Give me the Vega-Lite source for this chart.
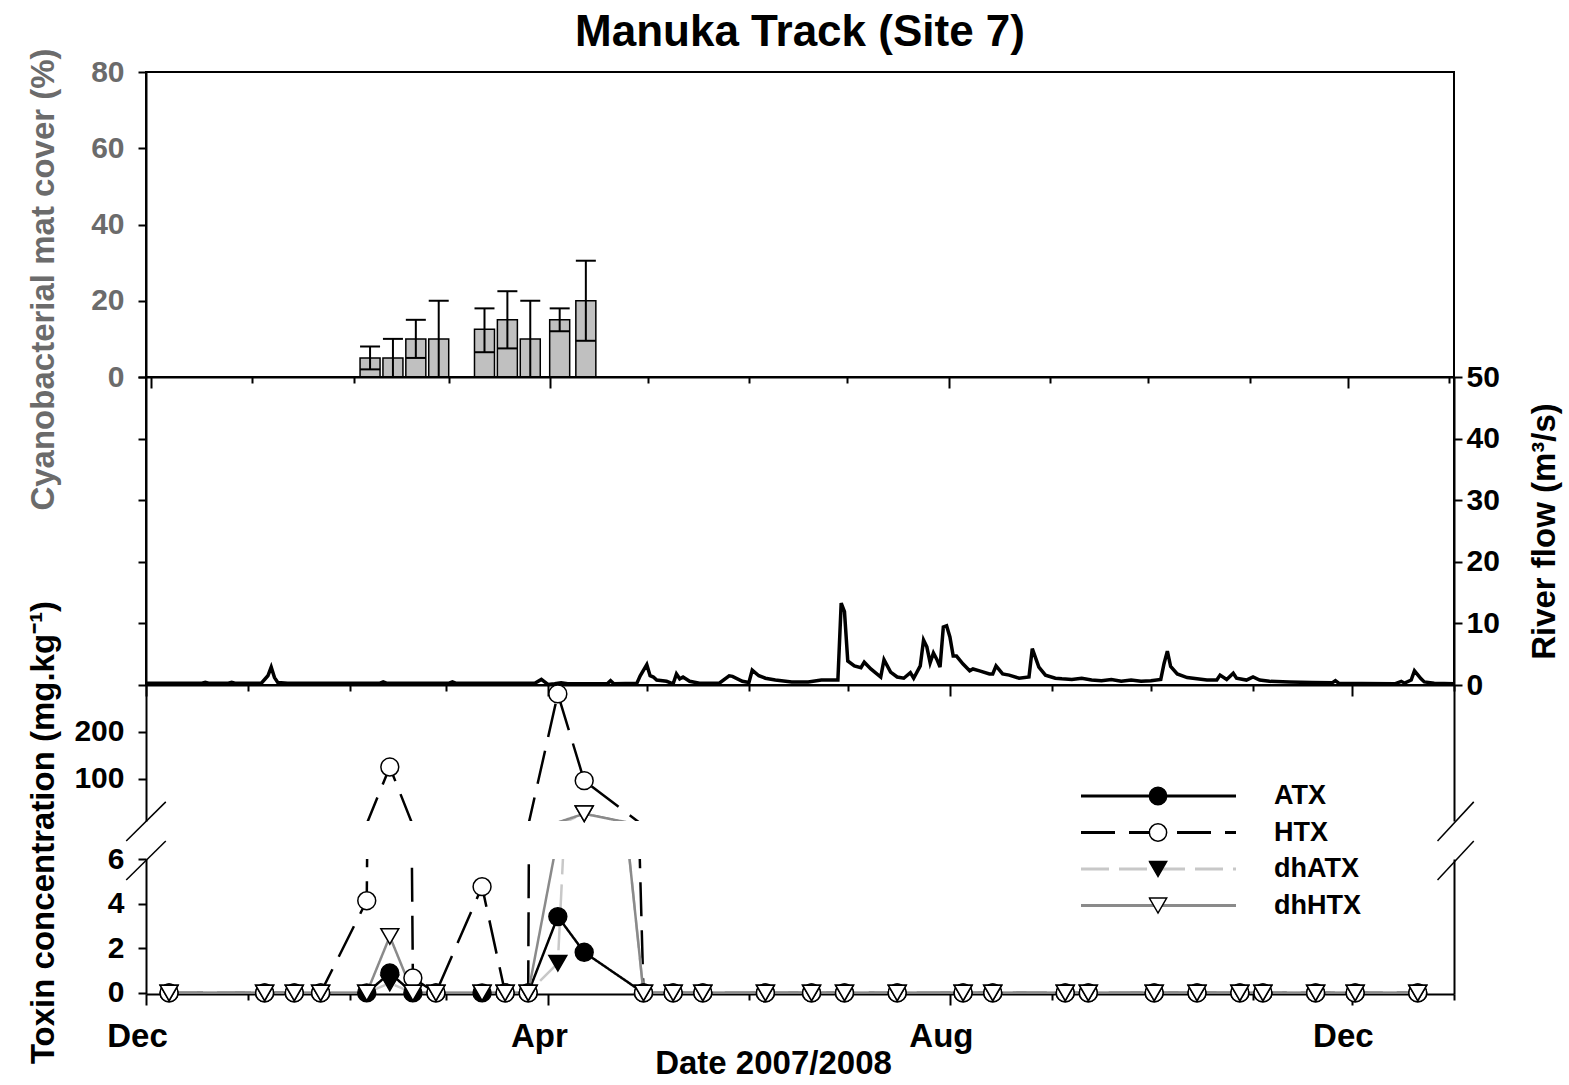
{
  "$schema": "https://vega.github.io/schema/vega-lite/v6.json",
  "autosize": {"type": "pad"},
  "padding": {"left": 25, "top": 10, "right": 5, "bottom": 5},
  "title": {"text": "Manuka Track (Site 7)", "fontSize": 44, "font": "Liberation Sans", "fontWeight": "bold", "color": "black", "anchor": "middle", "frame": "group", "offset": -8},
  "config": {
    "font": "Liberation Sans",
    "view": {"stroke": null},
    "axis": {"labelFont": "Liberation Sans", "titleFont": "Liberation Sans", "labelFontWeight": "bold", "labelFontSize": 30, "labelColor": "black", "titleFontSize": 33, "titleFontWeight": "bold", "titleColor": "black", "domainColor": "black", "domainWidth": 2, "tickColor": "black", "tickWidth": 2, "tickSize": 8, "grid": false, "labelPadding": 12},
    "legend": {"labelFont": "Liberation Sans"}
  },
  "datasets": {
    "cover": [
      {"date": "2008-02-06", "cover": 5, "lo": 2, "hi": 8},
      {"date": "2008-02-13", "cover": 5, "lo": 0, "hi": 10},
      {"date": "2008-02-20", "cover": 10, "lo": 5, "hi": 15},
      {"date": "2008-02-27", "cover": 10, "lo": 0, "hi": 20},
      {"date": "2008-03-12", "cover": 12.5, "lo": 6.5, "hi": 18},
      {"date": "2008-03-19", "cover": 15, "lo": 7.5, "hi": 22.5},
      {"date": "2008-03-26", "cover": 10, "lo": 0, "hi": 20},
      {"date": "2008-04-04", "cover": 15, "lo": 12, "hi": 18},
      {"date": "2008-04-12", "cover": 20, "lo": 9.5, "hi": 30.5}
    ],
    "flow": [
      {"date": "2007-12-01", "flow": 0.3}, {"date": "2007-12-18", "flow": 0.3}, {"date": "2007-12-19", "flow": 0.45}, {"date": "2007-12-20", "flow": 0.3},
      {"date": "2007-12-26", "flow": 0.3}, {"date": "2007-12-27", "flow": 0.45}, {"date": "2007-12-28", "flow": 0.3},
      {"date": "2008-01-05", "flow": 0.3}, {"date": "2008-01-07", "flow": 1.5}, {"date": "2008-01-08", "flow": 2.9}, {"date": "2008-01-09", "flow": 1.2},
      {"date": "2008-01-10", "flow": 0.4}, {"date": "2008-01-13", "flow": 0.3}, {"date": "2008-02-10", "flow": 0.3}, {"date": "2008-02-11", "flow": 0.5},
      {"date": "2008-02-12", "flow": 0.3}, {"date": "2008-03-02", "flow": 0.3}, {"date": "2008-03-03", "flow": 0.5}, {"date": "2008-03-04", "flow": 0.3},
      {"date": "2008-03-28", "flow": 0.3}, {"date": "2008-03-30", "flow": 0.9}, {"date": "2008-03-31", "flow": 0.5}, {"date": "2008-04-01", "flow": 0.1},
      {"date": "2008-04-03", "flow": 0.2}, {"date": "2008-04-05", "flow": 0.35}, {"date": "2008-04-07", "flow": 0.2}, {"date": "2008-04-19", "flow": 0.2},
      {"date": "2008-04-20", "flow": 0.7}, {"date": "2008-04-21", "flow": 0.2}, {"date": "2008-04-28", "flow": 0.3}, {"date": "2008-04-29", "flow": 1.5},
      {"date": "2008-05-01", "flow": 3.3}, {"date": "2008-05-02", "flow": 1.5}, {"date": "2008-05-03", "flow": 1.3}, {"date": "2008-05-04", "flow": 0.8},
      {"date": "2008-05-07", "flow": 0.6}, {"date": "2008-05-09", "flow": 0.2}, {"date": "2008-05-10", "flow": 1.8}, {"date": "2008-05-11", "flow": 1.0},
      {"date": "2008-05-12", "flow": 1.3}, {"date": "2008-05-14", "flow": 0.6}, {"date": "2008-05-17", "flow": 0.3}, {"date": "2008-05-23", "flow": 0.3},
      {"date": "2008-05-26", "flow": 1.5}, {"date": "2008-05-27", "flow": 1.4}, {"date": "2008-05-30", "flow": 0.6}, {"date": "2008-06-01", "flow": 0.4},
      {"date": "2008-06-02", "flow": 2.4}, {"date": "2008-06-04", "flow": 1.5}, {"date": "2008-06-06", "flow": 1.1}, {"date": "2008-06-09", "flow": 0.8},
      {"date": "2008-06-14", "flow": 0.5}, {"date": "2008-06-19", "flow": 0.5}, {"date": "2008-06-23", "flow": 0.8}, {"date": "2008-06-28", "flow": 0.8},
      {"date": "2008-06-29", "flow": 13.3}, {"date": "2008-06-30", "flow": 11.9}, {"date": "2008-07-01", "flow": 3.9}, {"date": "2008-07-03", "flow": 3.1},
      {"date": "2008-07-05", "flow": 2.8}, {"date": "2008-07-06", "flow": 3.7}, {"date": "2008-07-08", "flow": 2.6}, {"date": "2008-07-11", "flow": 1.3},
      {"date": "2008-07-12", "flow": 4.1}, {"date": "2008-07-14", "flow": 2.1}, {"date": "2008-07-16", "flow": 1.3}, {"date": "2008-07-18", "flow": 1.1},
      {"date": "2008-07-20", "flow": 2.0}, {"date": "2008-07-21", "flow": 1.1}, {"date": "2008-07-23", "flow": 3.1}, {"date": "2008-07-24", "flow": 7.3},
      {"date": "2008-07-25", "flow": 6.2}, {"date": "2008-07-26", "flow": 3.6}, {"date": "2008-07-27", "flow": 5.2}, {"date": "2008-07-28", "flow": 4.2},
      {"date": "2008-07-29", "flow": 2.9}, {"date": "2008-07-30", "flow": 9.4}, {"date": "2008-07-31", "flow": 9.6}, {"date": "2008-08-01", "flow": 7.8},
      {"date": "2008-08-02", "flow": 4.7}, {"date": "2008-08-03", "flow": 4.7}, {"date": "2008-08-05", "flow": 3.4}, {"date": "2008-08-07", "flow": 2.3},
      {"date": "2008-08-08", "flow": 2.6}, {"date": "2008-08-10", "flow": 2.3}, {"date": "2008-08-13", "flow": 1.8}, {"date": "2008-08-14", "flow": 1.8},
      {"date": "2008-08-15", "flow": 3.1}, {"date": "2008-08-17", "flow": 1.8}, {"date": "2008-08-19", "flow": 1.6}, {"date": "2008-08-22", "flow": 1.1},
      {"date": "2008-08-25", "flow": 1.3}, {"date": "2008-08-26", "flow": 5.9}, {"date": "2008-08-28", "flow": 2.9}, {"date": "2008-08-30", "flow": 1.6},
      {"date": "2008-09-02", "flow": 1.1}, {"date": "2008-09-04", "flow": 1.0}, {"date": "2008-09-07", "flow": 0.9}, {"date": "2008-09-10", "flow": 1.1},
      {"date": "2008-09-13", "flow": 0.8}, {"date": "2008-09-16", "flow": 0.7}, {"date": "2008-09-19", "flow": 0.9}, {"date": "2008-09-22", "flow": 0.6},
      {"date": "2008-09-25", "flow": 0.8}, {"date": "2008-09-28", "flow": 0.6}, {"date": "2008-10-01", "flow": 0.7}, {"date": "2008-10-04", "flow": 0.9},
      {"date": "2008-10-05", "flow": 3.5}, {"date": "2008-10-06", "flow": 5.5}, {"date": "2008-10-07", "flow": 3.0}, {"date": "2008-10-09", "flow": 1.8},
      {"date": "2008-10-12", "flow": 1.2}, {"date": "2008-10-15", "flow": 1.0}, {"date": "2008-10-18", "flow": 0.8}, {"date": "2008-10-21", "flow": 0.8},
      {"date": "2008-10-22", "flow": 1.6}, {"date": "2008-10-24", "flow": 0.9}, {"date": "2008-10-26", "flow": 1.9}, {"date": "2008-10-27", "flow": 1.1},
      {"date": "2008-10-30", "flow": 0.8}, {"date": "2008-11-01", "flow": 1.3}, {"date": "2008-11-03", "flow": 0.8}, {"date": "2008-11-06", "flow": 0.6},
      {"date": "2008-11-12", "flow": 0.5}, {"date": "2008-11-19", "flow": 0.4}, {"date": "2008-11-25", "flow": 0.35}, {"date": "2008-11-26", "flow": 0.7},
      {"date": "2008-11-27", "flow": 0.3}, {"date": "2008-12-04", "flow": 0.25}, {"date": "2008-12-14", "flow": 0.2}, {"date": "2008-12-16", "flow": 0.6},
      {"date": "2008-12-17", "flow": 0.3}, {"date": "2008-12-19", "flow": 0.8}, {"date": "2008-12-20", "flow": 2.3}, {"date": "2008-12-22", "flow": 1.0},
      {"date": "2008-12-23", "flow": 0.5}, {"date": "2008-12-26", "flow": 0.3}, {"date": "2009-01-01", "flow": 0.2}
    ],
    "toxin": [
      {"date": "2007-12-08", "ATX": 0, "HTX": 0, "dhATX": 0, "dhHTX": 0},
      {"date": "2008-01-06", "ATX": 0, "HTX": 0, "dhATX": 0, "dhHTX": 0},
      {"date": "2008-01-15", "ATX": 0, "HTX": 0, "dhATX": 0, "dhHTX": 0},
      {"date": "2008-01-23", "ATX": 0, "HTX": 0, "dhATX": 0, "dhHTX": 0},
      {"date": "2008-02-06", "ATX": 0, "HTX": 4.13, "dhATX": 0, "dhHTX": 0},
      {"date": "2008-02-13", "ATX": 0.89, "HTX": 125, "dhATX": 0.44, "dhHTX": 2.53},
      {"date": "2008-02-20", "ATX": 0, "HTX": 0.67, "dhATX": 0, "dhHTX": 0},
      {"date": "2008-02-27", "ATX": 0, "HTX": 0, "dhATX": 0, "dhHTX": 0},
      {"date": "2008-03-12", "ATX": 0, "HTX": 4.76, "dhATX": 0, "dhHTX": 0},
      {"date": "2008-03-19", "ATX": 0, "HTX": 0, "dhATX": 0, "dhHTX": 0},
      {"date": "2008-03-26", "ATX": 0, "HTX": 0, "dhATX": 0, "dhHTX": 0},
      {"date": "2008-04-04", "ATX": 3.42, "HTX": 281, "dhATX": 1.33, "dhHTX": 7},
      {"date": "2008-04-12", "ATX": 1.82, "HTX": 96, "dhATX": 25.5, "dhHTX": 25.5},
      {"date": "2008-04-30", "ATX": 0, "HTX": 0, "dhATX": 0, "dhHTX": 0},
      {"date": "2008-05-09", "ATX": 0, "HTX": 0, "dhATX": 0, "dhHTX": 0},
      {"date": "2008-05-18", "ATX": 0, "HTX": 0, "dhATX": 0, "dhHTX": 0},
      {"date": "2008-06-06", "ATX": 0, "HTX": 0, "dhATX": 0, "dhHTX": 0},
      {"date": "2008-06-20", "ATX": 0, "HTX": 0, "dhATX": 0, "dhHTX": 0},
      {"date": "2008-06-30", "ATX": 0, "HTX": 0, "dhATX": 0, "dhHTX": 0},
      {"date": "2008-07-16", "ATX": 0, "HTX": 0, "dhATX": 0, "dhHTX": 0},
      {"date": "2008-08-05", "ATX": 0, "HTX": 0, "dhATX": 0, "dhHTX": 0},
      {"date": "2008-08-14", "ATX": 0, "HTX": 0, "dhATX": 0, "dhHTX": 0},
      {"date": "2008-09-05", "ATX": 0, "HTX": 0, "dhATX": 0, "dhHTX": 0},
      {"date": "2008-09-12", "ATX": 0, "HTX": 0, "dhATX": 0, "dhHTX": 0},
      {"date": "2008-10-02", "ATX": 0, "HTX": 0, "dhATX": 0, "dhHTX": 0},
      {"date": "2008-10-15", "ATX": 0, "HTX": 0, "dhATX": 0, "dhHTX": 0},
      {"date": "2008-10-28", "ATX": 0, "HTX": 0, "dhATX": 0, "dhHTX": 0},
      {"date": "2008-11-04", "ATX": 0, "HTX": 0, "dhATX": 0, "dhHTX": 0},
      {"date": "2008-11-20", "ATX": 0, "HTX": 0, "dhATX": 0, "dhHTX": 0},
      {"date": "2008-12-02", "ATX": 0, "HTX": 0, "dhATX": 0, "dhHTX": 0},
      {"date": "2008-12-21", "ATX": 0, "HTX": 0, "dhATX": 0, "dhHTX": 0}
    ],
    "breaks": [
      {"d1": "2007-11-25", "d2": "2007-12-07", "v1": 5.06, "v2": 6.81},
      {"d1": "2007-11-25", "d2": "2007-12-07", "v1": 6.81, "v2": 8.56},
      {"d1": "2008-12-27", "d2": "2009-01-07", "v1": 5.06, "v2": 6.81},
      {"d1": "2008-12-27", "d2": "2009-01-07", "v1": 6.81, "v2": 8.56}
    ]
  },
  "spacing": 0,
  "bounds": "flush",
  "vconcat": [
    {
      "width": 1308, "height": 305,
      "view": {"stroke": "black", "strokeWidth": 2},
      "data": {"name": "cover"},
      "layer": [
        {
          "mark": {"type": "bar", "width": 20, "fill": "#c0c0c0", "stroke": "black", "strokeWidth": 1.5},
          "encoding": {
            "x": {"field": "date", "type": "temporal",
                  "scale": {"type": "utc", "domain": [{"year": 2007, "month": 12, "date": 1, "utc": true}, {"year": 2009, "month": 1, "date": 1, "utc": true}]},
                  "axis": {"tickCount": {"interval": "month", "step": 1}, "labels": false, "title": null, "tickSize": {"condition": {"test": "utcmonth(datum.value) % 4 == 3", "value": 11}, "value": 6}}},
            "y": {"field": "cover", "type": "quantitative", "scale": {"domain": [0, 80], "nice": false},
                  "axis": {"values": [0, 20, 40, 60, 80], "labelColor": "#6b6b6b", "title": "Cyanobacterial mat cover (%)", "titleColor": "#6b6b6b", "titleX": -103, "titleY": 207, "titleAngle": 270, "titleAlign": "center", "titleBaseline": "middle", "labelPadding": 14}}
          }
        },
        {
          "mark": {"type": "rule", "color": "black", "strokeWidth": 2},
          "encoding": {
            "x": {"field": "date", "type": "temporal"},
            "y": {"field": "lo", "type": "quantitative"},
            "y2": {"field": "hi"}
          }
        },
        {
          "mark": {"type": "tick", "orient": "horizontal", "color": "black", "size": 20, "thickness": 2, "opacity": 1},
          "encoding": {
            "x": {"field": "date", "type": "temporal"},
            "y": {"field": "hi", "type": "quantitative"}
          }
        },
        {
          "transform": [{"filter": "datum.lo > 0"}],
          "mark": {"type": "tick", "orient": "horizontal", "color": "black", "size": 20, "thickness": 2, "opacity": 1},
          "encoding": {
            "x": {"field": "date", "type": "temporal"},
            "y": {"field": "lo", "type": "quantitative"}
          }
        }
      ]
    },
    {
      "width": 1308, "height": 308,
      "view": {"stroke": "black", "strokeWidth": 2},
      "data": {"name": "flow"},
      "layer": [
        {
          "mark": {"type": "line", "color": "black", "strokeWidth": 3.5},
          "encoding": {
            "x": {"field": "date", "type": "temporal",
                  "scale": {"type": "utc", "domain": [{"year": 2007, "month": 12, "date": 1, "utc": true}, {"year": 2009, "month": 1, "date": 1, "utc": true}]},
                  "axis": {"tickCount": {"interval": "month", "step": 1}, "labels": false, "title": null, "tickSize": {"condition": {"test": "utcmonth(datum.value) % 4 == 3", "value": 11}, "value": 6}}},
            "y": {"field": "flow", "type": "quantitative", "scale": {"domain": [0, 50], "nice": false},
                  "axis": {"values": [0, 10, 20, 30, 40, 50], "labels": false, "title": null}}
          }
        },
        {
          "mark": {"type": "line", "color": "black", "strokeWidth": 3.5, "opacity": 0},
          "encoding": {
            "x": {"field": "date", "type": "temporal"},
            "y": {"field": "flow", "type": "quantitative",
                  "axis": {"orient": "right", "values": [0, 10, 20, 30, 40, 50], "labelPadding": 4, "title": "River flow (m³/s)", "titleX": 90, "titleY": 154, "titleAngle": 270, "titleAlign": "center", "titleBaseline": "middle"}}
          }
        }
      ],
      "resolve": {"axis": {"y": "independent"}}
    },
    {
      "spacing": 38,
      "bounds": "flush",
      "vconcat": [
        {
          "width": 1308, "height": 136,
          "layer": [
            {
              "data": {"name": "toxin"},
              "transform": [{"fold": ["ATX", "HTX", "dhATX", "dhHTX"], "as": ["toxin", "value"]}],
              "mark": {"type": "line", "clip": true, "strokeWidth": 2.5},
              "encoding": {
                "x": {"field": "date", "type": "temporal",
                      "scale": {"type": "utc", "domain": [{"year": 2007, "month": 12, "date": 1, "utc": true}, {"year": 2009, "month": 1, "date": 1, "utc": true}]},
                      "axis": null},
                "y": {"field": "value", "type": "quantitative", "scale": {"domain": [10, 300], "nice": false, "zero": false},
                      "axis": {"values": [100, 200], "title": null, "labelPadding": 14}},
                "stroke": {"field": "toxin", "type": "nominal", "scale": {"domain": ["ATX", "HTX", "dhATX", "dhHTX"], "range": ["black", "black", "#c8c8c8", "#8a8a8a"]},
                           "legend": {"orient": "none", "legendX": 933.5, "legendY": 706, "title": null, "symbolType": "stroke", "symbolSize": 24025, "symbolStrokeWidth": 3, "clipHeight": 36, "rowPadding": 0.5, "labelFontSize": 27, "labelFontWeight": "bold", "labelColor": "black", "labelOffset": 36.5, "padding": 0}},
                "strokeDash": {"field": "toxin", "type": "nominal", "scale": {"domain": ["ATX", "HTX", "dhATX", "dhHTX"], "range": [[1, 0], [34, 14], [28, 10], [1, 0]]},
                           "legend": {"orient": "none", "legendX": 933.5, "legendY": 706, "title": null, "symbolType": "stroke", "symbolSize": 24025, "symbolStrokeWidth": 3, "clipHeight": 36, "rowPadding": 0.5, "labelFontSize": 27, "labelFontWeight": "bold", "labelColor": "black", "labelOffset": 36.5, "padding": 0}}
              }
            },
            {
              "data": {"name": "toxin"},
              "transform": [{"fold": ["ATX", "HTX", "dhATX", "dhHTX"], "as": ["toxin", "value"]}, {"filter": "datum.value >= 10"}],
              "mark": {"type": "point", "filled": true, "stroke": "black", "strokeWidth": 1.5, "size": 320, "opacity": 1},
              "encoding": {
                "x": {"field": "date", "type": "temporal", "axis": null},
                "y": {"field": "value", "type": "quantitative", "axis": {"orient": "right", "labels": false, "ticks": false, "title": null}},
                "shape": {"field": "toxin", "type": "nominal", "scale": {"range": ["circle", "circle", "triangle-down", "triangle-down"]},
                          "legend": {"orient": "none", "legendX": 1002.5, "legendY": 706, "title": null, "symbolSize": 300, "symbolStrokeWidth": 1.5, "clipHeight": 36, "rowPadding": 0.5, "labelFontSize": 1, "labelExpr": "''", "padding": 0}},
                "fill": {"field": "toxin", "type": "nominal", "scale": {"range": ["black", "white", "black", "white"]},
                          "legend": {"orient": "none", "legendX": 1002.5, "legendY": 706, "title": null, "symbolSize": 300, "symbolStrokeWidth": 1.5, "clipHeight": 36, "rowPadding": 0.5, "labelFontSize": 1, "labelExpr": "''", "padding": 0}}
              }
            }
          ],
          "resolve": {"axis": {"y": "independent"}}
        },
        {
          "width": 1308, "height": 135,
          "layer": [
            {
              "data": {"name": "toxin"},
              "transform": [{"fold": ["ATX", "HTX", "dhATX", "dhHTX"], "as": ["toxin", "value"]}],
              "mark": {"type": "line", "clip": true, "strokeWidth": 2.5},
              "encoding": {
                "x": {"field": "date", "type": "temporal",
                      "scale": {"type": "utc", "domain": [{"year": 2007, "month": 12, "date": 1, "utc": true}, {"year": 2009, "month": 1, "date": 1, "utc": true}]},
                      "axis": {"tickCount": {"interval": "month", "step": 1}, "labelExpr": "utcmonth(datum.value) % 4 == 3 ? utcFormat(datum.value, '%b') : ''", "labelFontSize": 33, "labelFlush": false, "labelOffset": -9, "labelPadding": 15, "tickSize": {"condition": {"test": "utcmonth(datum.value) % 4 == 3", "value": 11}, "value": 6}, "title": "Date 2007/2008", "titleX": 627, "titleY": 69, "titleAlign": "center", "titleBaseline": "middle"}},
                "y": {"field": "value", "type": "quantitative", "scale": {"domain": [-0.05, 6], "nice": false, "zero": false},
                      "axis": {"values": [0, 2, 4, 6], "labelPadding": 14, "title": "Toxin concentration (mg.kg⁻¹)", "titleX": -103, "titleY": -27, "titleAngle": 270, "titleAlign": "center", "titleBaseline": "middle"}},
                "stroke": {"field": "toxin", "type": "nominal", "scale": {"domain": ["ATX", "HTX", "dhATX", "dhHTX"], "range": ["black", "black", "#c8c8c8", "#8a8a8a"]},
                           "legend": {"orient": "none", "legendX": 933.5, "legendY": 706, "title": null, "symbolType": "stroke", "symbolSize": 24025, "symbolStrokeWidth": 3, "clipHeight": 36, "rowPadding": 0.5, "labelFontSize": 27, "labelFontWeight": "bold", "labelColor": "black", "labelOffset": 36.5, "padding": 0}},
                "strokeDash": {"field": "toxin", "type": "nominal", "scale": {"domain": ["ATX", "HTX", "dhATX", "dhHTX"], "range": [[1, 0], [34, 14], [28, 10], [1, 0]]},
                           "legend": {"orient": "none", "legendX": 933.5, "legendY": 706, "title": null, "symbolType": "stroke", "symbolSize": 24025, "symbolStrokeWidth": 3, "clipHeight": 36, "rowPadding": 0.5, "labelFontSize": 27, "labelFontWeight": "bold", "labelColor": "black", "labelOffset": 36.5, "padding": 0}}
              }
            },
            {
              "data": {"name": "toxin"},
              "transform": [{"fold": ["ATX", "HTX", "dhATX", "dhHTX"], "as": ["toxin", "value"]}, {"filter": "datum.value <= 6"}],
              "mark": {"type": "point", "filled": true, "stroke": "black", "strokeWidth": 1.5, "size": 320, "opacity": 1},
              "encoding": {
                "x": {"field": "date", "type": "temporal"},
                "y": {"field": "value", "type": "quantitative", "axis": {"orient": "right", "labels": false, "ticks": false, "title": null}},
                "shape": {"field": "toxin", "type": "nominal", "scale": {"range": ["circle", "circle", "triangle-down", "triangle-down"]},
                          "legend": {"orient": "none", "legendX": 1002.5, "legendY": 706, "title": null, "symbolSize": 300, "symbolStrokeWidth": 1.5, "clipHeight": 36, "rowPadding": 0.5, "labelFontSize": 1, "labelExpr": "''", "padding": 0}},
                "fill": {"field": "toxin", "type": "nominal", "scale": {"range": ["black", "white", "black", "white"]},
                          "legend": {"orient": "none", "legendX": 1002.5, "legendY": 706, "title": null, "symbolSize": 300, "symbolStrokeWidth": 1.5, "clipHeight": 36, "rowPadding": 0.5, "labelFontSize": 1, "labelExpr": "''", "padding": 0}}
              }
            },
            {
              "data": {"name": "breaks"},
              "mark": {"type": "rule", "color": "black", "strokeWidth": 1.5},
              "encoding": {
                "x": {"field": "d1", "type": "temporal"},
                "x2": {"field": "d2"},
                "y": {"field": "v1", "type": "quantitative", "axis": null},
                "y2": {"field": "v2"}
              }
            }
          ],
          "resolve": {"axis": {"y": "independent"}}
        }
      ]
    }
  ]
}
